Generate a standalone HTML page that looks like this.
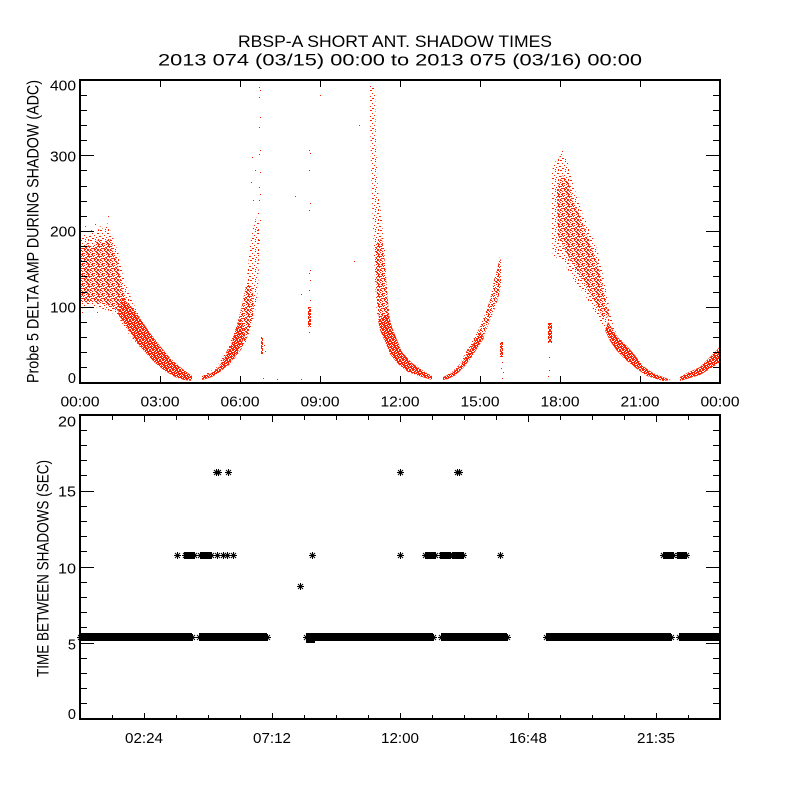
<!DOCTYPE html>
<html><head><meta charset="utf-8"><style>
html,body{margin:0;padding:0;background:#fff;}
svg{display:block;}
text{font-family:"Liberation Sans",Arial,sans-serif;fill:#000;}
</style></head><body>
<svg width="800" height="800" viewBox="0 0 800 800" xmlns="http://www.w3.org/2000/svg">
<defs>
<pattern id="sp" patternUnits="userSpaceOnUse" width="10" height="10">
<g fill="#ff2000">
<rect x="0" y="0" width="2" height="1"/><rect x="5" y="1" width="1" height="1"/><rect x="8" y="0" width="1" height="1"/>
<rect x="2" y="3" width="1" height="1"/><rect x="7" y="3" width="2" height="1"/><rect x="4" y="5" width="1" height="1"/>
<rect x="0" y="6" width="1" height="1"/><rect x="9" y="6" width="1" height="1"/><rect x="6" y="7" width="1" height="1"/>
<rect x="2" y="8" width="2" height="1"/><rect x="8" y="9" width="1" height="1"/><rect x="5" y="9" width="1" height="1"/>
</g></pattern>
<pattern id="md" patternUnits="userSpaceOnUse" width="10" height="10">
<g fill="#ff2000">
<rect x="0" y="0" width="2" height="1"/><rect x="4" y="0" width="1" height="1"/><rect x="7" y="0" width="2" height="1"/>
<rect x="2" y="1" width="1" height="1"/><rect x="5" y="1" width="2" height="1"/><rect x="9" y="1" width="1" height="1"/>
<rect x="0" y="2" width="1" height="1"/><rect x="6" y="2" width="2" height="1"/><rect x="3" y="3" width="2" height="1"/>
<rect x="8" y="3" width="1" height="1"/><rect x="1" y="4" width="2" height="1"/><rect x="6" y="4" width="1" height="1"/>
<rect x="8" y="4" width="2" height="1"/><rect x="2" y="5" width="1" height="1"/><rect x="4" y="5" width="1" height="1"/>
<rect x="8" y="5" width="1" height="1"/><rect x="0" y="6" width="2" height="1"/><rect x="3" y="6" width="1" height="1"/>
<rect x="7" y="6" width="2" height="1"/><rect x="5" y="7" width="1" height="1"/><rect x="9" y="7" width="1" height="1"/>
<rect x="1" y="8" width="1" height="1"/><rect x="3" y="8" width="2" height="1"/><rect x="6" y="8" width="1" height="1"/>
<rect x="0" y="9" width="1" height="1"/><rect x="4" y="9" width="1" height="1"/><rect x="7" y="9" width="2" height="1"/>
</g></pattern>
<pattern id="dn" patternUnits="userSpaceOnUse" width="10" height="10">
<rect x="0" y="0" width="10" height="10" fill="#ff2000"/>
<g fill="#fff">
<rect x="1" y="0" width="1" height="1"/><rect x="4" y="0" width="1" height="1"/><rect x="8" y="0" width="1" height="1"/>
<rect x="2" y="1" width="1" height="1"/><rect x="6" y="1" width="1" height="1"/><rect x="0" y="2" width="1" height="1"/>
<rect x="5" y="2" width="1" height="1"/><rect x="9" y="2" width="1" height="1"/><rect x="3" y="3" width="1" height="1"/>
<rect x="7" y="3" width="1" height="1"/><rect x="1" y="4" width="1" height="1"/><rect x="5" y="4" width="1" height="1"/>
<rect x="8" y="5" width="1" height="1"/><rect x="0" y="5" width="1" height="1"/><rect x="3" y="6" width="1" height="1"/>
<rect x="6" y="6" width="1" height="1"/><rect x="9" y="6" width="1" height="1"/><rect x="2" y="7" width="1" height="1"/>
<rect x="7" y="7" width="1" height="1"/><rect x="4" y="8" width="1" height="1"/><rect x="0" y="8" width="1" height="1"/>
<rect x="8" y="9" width="1" height="1"/><rect x="5" y="9" width="1" height="1"/><rect x="1" y="9" width="1" height="1"/>
<rect x="3" y="1" width="1" height="1"/><rect x="6" y="4" width="1" height="1"/><rect x="2" y="5" width="1" height="1"/><rect x="9" y="8" width="1" height="1"/>
</g></pattern>
<path id="ast" d="M-3,0.5H4M0.5,-3V4M-2,-2L3,3M-2,3L3,-2" stroke="#000" stroke-width="1" fill="none"/>
</defs>

<!-- Title -->
<text x="395" y="47" font-size="17" text-anchor="middle" textLength="314" lengthAdjust="spacingAndGlyphs">RBSP-A SHORT ANT. SHADOW TIMES</text>
<text x="400" y="65.5" font-size="17" text-anchor="middle" textLength="484" lengthAdjust="spacingAndGlyphs">2013 074 (03/15) 00:00 to 2013 075 (03/16) 00:00</text>

<!-- ===== TOP PLOT DATA ===== -->
<g stroke="none">
<!-- cloud 1 -->
<polygon fill="url(#sp)" points="80,238 84,232 88,236 92,229 96,234 100,226 104,230 107,222 110,230 114,240 119,255 123,275 128,290 132,300 140,318 148,335 148,355 138,345 128,333 120,320 110,311 100,308 90,306 80,309"/>
<polygon fill="url(#md)" points="80,248 86,244 92,247 98,240 104,243 110,238 114,250 118,265 122,285 126,300 120,312 110,306 100,303 90,302 80,303"/>
<polygon fill="url(#dn)" points="122,298 130,305 140,318 150,333 160,346 170,358 180,367 188,373 192,376 192,381 184,380 175,377 165,371 155,363 145,352 135,340 126,326 118,314"/>
<!-- cloud 2 -->
<polygon fill="url(#sp)" points="202,376 216,368 226,352 234,333 240,315 245,292 248,268 250,245 253,228 256,217 259,222 259,255 258,290 255,312 251,328 246,342 240,351 233,360 226,367 218,373 210,378 202,380"/>
<polygon fill="url(#md)" points="222,360 230,345 237,325 242,305 246,285 251,285 254,300 253,318 248,335 242,348 235,358 228,366"/>
<polygon fill="url(#dn)" points="202,376 210,374 218,368 225,357 231,345 236,330 240,318 245,335 240,348 234,358 228,365 220,372 212,377 202,380"/>
<rect x="261" y="337" width="2" height="17" fill="url(#dn)"/>
<!-- column 310 -->
<rect x="308" y="307" width="3" height="20" fill="url(#dn)"/>
<!-- cloud 3 -->
<polygon fill="url(#sp)" points="370,86 375,86 376,140 378,190 382,220 385,260 388,300 390,320 377,320 375,280 373,230 371,170 370,120"/>
<polygon fill="url(#md)" points="375,245 382,238 385,263 387,290 389,315 392,328 380,328 377,300 376,270"/>
<polygon fill="url(#dn)" points="388,313 392,327 397,340 402,352 412,363 425,372 432,376 432,380 422,377 408,372 398,364 390,354 386,344 380,330 378,320"/>
<!-- cloud 4 -->
<polygon fill="url(#md)" points="443,377 452,372 460,364 467,350 474,338 480,327 485,314 490,300 494,280 497,270 500,256 501,262 501,285 499,295 495,308 490,320 484,336 478,346 471,357 464,366 456,374 448,379 443,380"/>
<polygon fill="url(#dn)" points="443,377 452,373 460,366 467,355 474,343 480,332 484,338 478,347 471,358 464,367 456,375 448,379 443,380"/>
<rect x="500" y="342" width="3" height="15" fill="url(#dn)"/>
<rect x="548" y="323" width="4" height="20" fill="url(#dn)"/>
<!-- cloud 5 -->
<polygon fill="url(#sp)" points="552,170 556,160 561,155 565,157 568,163 572,180 578,200 583,215 588,226 593,238 598,252 601,265 604,280 608,300 612,320 616,333 625,345 633,355 643,366 653,373 663,378 671,380 663,380 647,376 637,369 627,361 617,351 610,341 603,326 596,314 589,302 582,291 575,282 568,270 561,257 553,258 552,240"/>
<polygon fill="url(#md)" points="557,190 562,175 568,182 575,205 583,225 592,248 600,272 605,298 609,316 603,318 595,302 585,285 575,268 565,250 558,235"/>
<polygon fill="url(#dn)" points="608,322 614,332 620,340 627,346 634,354 643,366 653,373 663,377 671,380 663,381 647,376 637,369 627,361 617,351 610,341 605,330"/>
<!-- cloud 6 -->
<polygon fill="url(#dn)" points="680,377 687,373 700,367 710,357 717,350 720,346 720,362 713,367 700,375 690,378 680,381"/>
</g>
<g fill="#ff2000">
<rect x="259" y="87" width="1" height="1"/><rect x="260" y="90" width="1" height="1"/><rect x="259" y="97" width="1" height="1"/>
<rect x="260" y="117" width="1" height="1"/><rect x="259" y="127" width="1" height="1"/><rect x="260" y="150" width="1" height="1"/>
<rect x="259" y="154" width="1" height="1"/><rect x="260" y="172" width="1" height="1"/><rect x="259" y="187" width="1" height="1"/>
<rect x="260" y="194" width="1" height="1"/><rect x="259" y="200" width="1" height="1"/><rect x="258" y="213" width="1" height="1"/>
<rect x="260" y="220" width="1" height="1"/><rect x="259" y="240" width="1" height="1"/><rect x="258" y="255" width="1" height="1"/>
<rect x="252" y="157" width="1" height="1"/><rect x="251" y="182" width="1" height="1"/><rect x="255" y="170" width="1" height="1"/>
<rect x="253" y="200" width="1" height="1"/><rect x="257" y="230" width="1" height="1"/>
<rect x="263" y="378" width="1" height="1"/><rect x="265" y="351" width="1" height="1"/><rect x="264" y="345" width="1" height="1"/>
<rect x="277" y="379" width="1" height="1"/><rect x="301" y="379" width="1" height="1"/><rect x="295" y="196" width="1" height="1"/>
<rect x="320" y="95" width="1" height="1"/><rect x="359" y="125" width="1" height="1"/><rect x="354" y="261" width="1" height="1"/>
<rect x="301" y="294" width="1" height="1"/>
<rect x="309" y="150" width="1" height="1"/><rect x="310" y="153" width="1" height="1"/><rect x="309" y="170" width="1" height="1"/>
<rect x="310" y="203" width="1" height="1"/><rect x="309" y="210" width="1" height="1"/><rect x="310" y="270" width="1" height="1"/>
<rect x="309" y="273" width="1" height="1"/><rect x="310" y="280" width="1" height="1"/><rect x="309" y="290" width="1" height="1"/>
<rect x="310" y="300" width="1" height="1"/><rect x="309" y="332" width="1" height="1"/>
<rect x="502" y="362" width="1" height="1"/><rect x="501" y="368" width="1" height="1"/><rect x="503" y="372" width="1" height="1"/><rect x="502" y="378" width="1" height="1"/>
<rect x="549" y="357" width="1" height="1"/><rect x="549" y="370" width="1" height="1"/><rect x="548" y="376" width="1" height="1"/>
<rect x="381" y="230" width="1" height="1"/><rect x="378" y="210" width="1" height="1"/><rect x="384" y="250" width="1" height="1"/>
<rect x="561" y="154" width="1" height="1"/><rect x="562" y="151" width="1" height="1"/>
<rect x="85" y="226" width="1" height="1"/><rect x="95" y="224" width="1" height="1"/><rect x="108" y="216" width="1" height="1"/>
<rect x="82" y="312" width="1" height="1"/><rect x="97" y="312" width="1" height="1"/>
</g>

<!-- ===== TOP PLOT AXES ===== -->
<rect x="80" y="80" width="640" height="303" fill="none" stroke="#000" stroke-width="2"/>
<path stroke="#000" stroke-width="1" fill="none" d="
M80,307.5h14M80,231.5h14M80,155.5h14
M80,367.5h7M80,352.5h7M80,337.5h7M80,322.5h7M80,292.5h7M80,276.5h7M80,261.5h7M80,246.5h7M80,216.5h7M80,201.5h7M80,186.5h7M80,170.5h7M80,140.5h7M80,125.5h7M80,110.5h7M80,95.5h7
M720,307.5h-14M720,231.5h-14M720,155.5h-14
M720,367.5h-7M720,352.5h-7M720,337.5h-7M720,322.5h-7M720,292.5h-7M720,276.5h-7M720,261.5h-7M720,246.5h-7M720,216.5h-7M720,201.5h-7M720,186.5h-7M720,170.5h-7M720,140.5h-7M720,125.5h-7M720,110.5h-7M720,95.5h-7
M160.5,80v7M240.5,80v7M320.5,80v7M400.5,80v7M480.5,80v7M560.5,80v7M640.5,80v7
M160.5,383v-7M240.5,383v-7M320.5,383v-7M400.5,383v-7M480.5,383v-7M560.5,383v-7M640.5,383v-7"/>
<g font-size="14.5" text-anchor="end">
<text x="76" y="90.7" textLength="26" lengthAdjust="spacingAndGlyphs">400</text>
<text x="76" y="161.7" textLength="26" lengthAdjust="spacingAndGlyphs">300</text>
<text x="76" y="236.7" textLength="26" lengthAdjust="spacingAndGlyphs">200</text>
<text x="76" y="312.7" textLength="26" lengthAdjust="spacingAndGlyphs">100</text>
<text x="76" y="383">0</text>
</g>
<g font-size="14.5" text-anchor="middle">
<text x="80" y="406.7" textLength="39" lengthAdjust="spacingAndGlyphs">00:00</text>
<text x="160" y="406.7" textLength="39" lengthAdjust="spacingAndGlyphs">03:00</text>
<text x="240" y="406.7" textLength="39" lengthAdjust="spacingAndGlyphs">06:00</text>
<text x="320" y="406.7" textLength="39" lengthAdjust="spacingAndGlyphs">09:00</text>
<text x="400" y="406.7" textLength="39" lengthAdjust="spacingAndGlyphs">12:00</text>
<text x="480" y="406.7" textLength="39" lengthAdjust="spacingAndGlyphs">15:00</text>
<text x="560" y="406.7" textLength="39" lengthAdjust="spacingAndGlyphs">18:00</text>
<text x="640" y="406.7" textLength="39" lengthAdjust="spacingAndGlyphs">21:00</text>
<text x="720" y="406.7" textLength="39" lengthAdjust="spacingAndGlyphs">00:00</text>
</g>
<text transform="translate(38.3,231.5) rotate(-90)" font-size="16.5" text-anchor="middle" textLength="303" lengthAdjust="spacingAndGlyphs">Probe 5 DELTA AMP DURING SHADOW (ADC)</text>

<!-- ===== BOTTOM PLOT DATA ===== -->
<g fill="#000">
<rect x="80" y="633" width="112" height="8"/>
<rect x="199" y="633" width="68" height="8"/>
<rect x="306" y="633" width="127" height="8"/>
<rect x="441" y="633" width="66" height="8"/>
<rect x="546" y="633" width="125" height="8"/>
<rect x="679" y="633" width="41" height="8"/>
<rect x="306" y="640" width="9" height="3"/>
<rect x="184" y="552" width="11" height="7"/>
<rect x="200" y="552" width="12" height="7"/>
<rect x="425" y="552" width="10" height="7"/>
<rect x="440" y="552" width="10" height="7"/>
<rect x="452" y="552" width="12" height="7"/>
<rect x="663" y="552" width="11" height="7"/>
<rect x="677" y="552" width="10" height="7"/>
</g>
<g>
<use href="#ast" x="177" y="555"/>
<use href="#ast" x="185" y="555"/><use href="#ast" x="194" y="555"/>
<use href="#ast" x="200" y="555"/><use href="#ast" x="211" y="555"/>
<use href="#ast" x="217" y="555"/><use href="#ast" x="223" y="555"/><use href="#ast" x="227" y="555"/><use href="#ast" x="233" y="555"/>
<use href="#ast" x="312" y="555"/><use href="#ast" x="400" y="555"/>
<use href="#ast" x="425" y="555"/><use href="#ast" x="435" y="555"/>
<use href="#ast" x="441" y="555"/><use href="#ast" x="450" y="555"/>
<use href="#ast" x="453" y="555"/><use href="#ast" x="463" y="555"/>
<use href="#ast" x="500" y="555"/>
<use href="#ast" x="663" y="555"/><use href="#ast" x="673" y="555"/>
<use href="#ast" x="678" y="555"/><use href="#ast" x="686" y="555"/>
<use href="#ast" x="216" y="472"/><use href="#ast" x="218" y="472"/>
<use href="#ast" x="228" y="472"/><use href="#ast" x="400" y="472"/>
<use href="#ast" x="457" y="472"/><use href="#ast" x="459" y="472"/>
<use href="#ast" x="300" y="586"/>
<use href="#ast" x="80" y="637"/><use href="#ast" x="192" y="637"/><use href="#ast" x="199" y="637"/><use href="#ast" x="267" y="637"/>
<use href="#ast" x="306" y="637"/><use href="#ast" x="433" y="637"/><use href="#ast" x="441" y="637"/><use href="#ast" x="507" y="637"/>
<use href="#ast" x="546" y="637"/><use href="#ast" x="671" y="637"/><use href="#ast" x="679" y="637"/>
</g>

<!-- ===== BOTTOM PLOT AXES ===== -->
<rect x="80" y="415" width="640" height="304" fill="none" stroke="#000" stroke-width="2"/>
<path stroke="#000" stroke-width="1" fill="none" d="
M80,643.5h14M80,567.5h14M80,491.5h14
M80,703.5h7M80,688.5h7M80,673.5h7M80,658.5h7M80,627.5h7M80,612.5h7M80,597.5h7M80,582.5h7M80,551.5h7M80,536.5h7M80,521.5h7M80,506.5h7M80,475.5h7M80,460.5h7M80,445.5h7M80,430.5h7
M720,643.5h-14M720,567.5h-14M720,491.5h-14
M720,703.5h-7M720,688.5h-7M720,673.5h-7M720,658.5h-7M720,627.5h-7M720,612.5h-7M720,597.5h-7M720,582.5h-7M720,551.5h-7M720,536.5h-7M720,521.5h-7M720,506.5h-7M720,475.5h-7M720,460.5h-7M720,445.5h-7M720,430.5h-7
M144.5,415v7M272.5,415v7M400.5,415v7M528.5,415v7M656.5,415v7
M112.5,415v5M176.5,415v5M208.5,415v5M240.5,415v5M304.5,415v5M336.5,415v5M368.5,415v5M432.5,415v5M464.5,415v5M496.5,415v5M560.5,415v5M592.5,415v5M624.5,415v5M688.5,415v5
M144.5,719v-6M272.5,719v-6M400.5,719v-6M528.5,719v-6M656.5,719v-6
M112.5,719v-4M176.5,719v-4M208.5,719v-4M240.5,719v-4M304.5,719v-4M336.5,719v-4M368.5,719v-4M432.5,719v-4M464.5,719v-4M496.5,719v-4M560.5,719v-4M592.5,719v-4M624.5,719v-4M688.5,719v-4"/>
<g font-size="14.5" text-anchor="end">
<text x="76" y="426.7" textLength="18" lengthAdjust="spacingAndGlyphs">20</text>
<text x="76" y="496.7" textLength="18" lengthAdjust="spacingAndGlyphs">15</text>
<text x="76" y="573.3" textLength="18" lengthAdjust="spacingAndGlyphs">10</text>
<text x="76" y="649.3">5</text>
<text x="76" y="719">0</text>
</g>
<g font-size="14.5" text-anchor="middle">
<text x="144" y="743" textLength="38" lengthAdjust="spacingAndGlyphs">02:24</text>
<text x="272" y="743" textLength="38" lengthAdjust="spacingAndGlyphs">07:12</text>
<text x="400" y="743" textLength="38" lengthAdjust="spacingAndGlyphs">12:00</text>
<text x="528" y="743" textLength="38" lengthAdjust="spacingAndGlyphs">16:48</text>
<text x="656" y="743" textLength="38" lengthAdjust="spacingAndGlyphs">21:35</text>
</g>
<text transform="translate(48.3,568.5) rotate(-90)" font-size="16.5" text-anchor="middle" textLength="217" lengthAdjust="spacingAndGlyphs">TIME BETWEEN SHADOWS (SEC)</text>
</svg>
</body></html>
